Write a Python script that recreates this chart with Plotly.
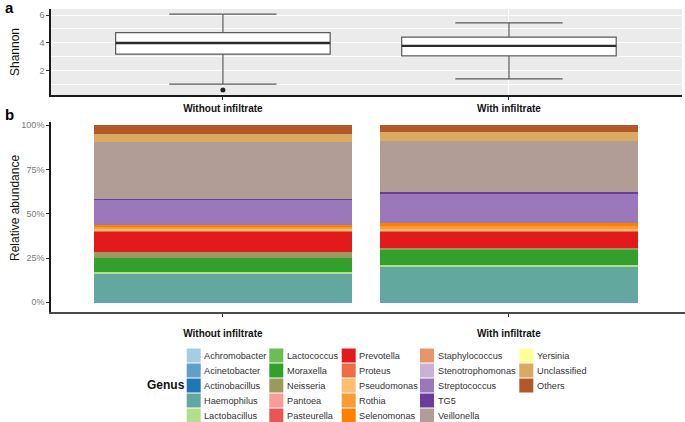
import plotly.graph_objects as go

W, H = 685, 422

# ---------------- data ----------------
groups = ["Without infiltrate", "With infiltrate"]

# Shannon box statistics (panel a)
shannon_upper = [6.07, 5.43]
shannon_q3 = [4.74, 4.42]
shannon_median = [4.00, 3.79]
shannon_q1 = [3.20, 3.07]
shannon_lower = [1.05, 1.43]
shannon_outlier_group = [0]
shannon_outlier_value = [0.62]

# Relative abundance (%) by genus (panel b)
genera = ["Achromobacter", "Acinetobacter", "Actinobacillus", "Haemophilus", "Lactobacillus",
          "Lactococcus", "Moraxella", "Neisseria", "Pantoea", "Pasteurella",
          "Prevotella", "Proteus", "Pseudomonas", "Rothia", "Selenomonas",
          "Staphylococcus", "Stenotrophomonas", "Streptococcus", "TG5", "Veillonella",
          "Yersinia", "Unclassified", "Others"]
abund_without = [0.0, 0.5, 0.0, 16.0, 0.8,
                 0.0, 7.9, 3.4, 0.0, 0.0,
                 11.3, 0.5, 1.1, 1.3, 1.1,
                 0.0, 0.0, 14.2, 0.4, 31.7,
                 0.0, 4.7, 5.1]
abund_with = [0.0, 0.7, 0.0, 19.6, 0.7,
              0.0, 8.5, 1.3, 0.0, 0.0,
              9.4, 0.3, 0.9, 2.2, 0.9,
              0.0, 0.0, 17.3, 0.5, 28.5,
              0.0, 5.1, 4.1]
genus_colors = ["#A6CEE3", "#5FA0CA", "#1F78B4", "#63A89F", "#B2DF8A",
                "#6DBD57", "#33A02C", "#999A5D", "#FB9A99", "#E95455",
                "#E31A1C", "#F06C45", "#FDBF6F", "#FD9A35", "#FF7F00",
                "#E8956B", "#CAB2D6", "#9B78B9", "#6A3D9A", "#B19C96",
                "#FFFF99", "#DAAA61", "#B15928"]

y_ticks_a = [2, 4, 6]
y_ticks_b = [0, 25, 50, 75, 100]
y_ticklabels_b = [f"{v}%" for v in y_ticks_b]

# ---------------- layout helpers ----------------
def px_x(x):
    return x / W

def px_y(y):
    return 1 - y / H

FONT = "Liberation Sans, Arial, sans-serif"
xpos = list(range(len(groups)))

fig = go.Figure()

# ---------- panel a: boxplots ----------
fig.add_trace(go.Box(
    x=xpos, q1=shannon_q1, median=shannon_median, q3=shannon_q3,
    lowerfence=shannon_lower, upperfence=shannon_upper,
    width=0.75, whiskerwidth=0.5, fillcolor="white",
    line=dict(color="#5a5a5a", width=1.2), boxpoints=False,
    xaxis="x", yaxis="y", showlegend=False, hoverinfo="skip"))
# thicker median lines
for i, m in enumerate(shannon_median):
    fig.add_trace(go.Scatter(x=[i - 0.375, i + 0.375], y=[m, m], mode="lines",
                             line=dict(color="#2b2b2b", width=2.4),
                             xaxis="x", yaxis="y", showlegend=False, hoverinfo="skip"))
fig.add_trace(go.Scatter(x=shannon_outlier_group, y=shannon_outlier_value, mode="markers",
                         marker=dict(color="#222", size=5),
                         xaxis="x", yaxis="y", showlegend=False, hoverinfo="skip"))

# ---------- panel b: stacked bars ----------
for g, vw, vi, c in zip(genera, abund_without, abund_with, genus_colors):
    fig.add_trace(go.Bar(x=xpos, y=[vw, vi], name=g, marker=dict(color=c, line=dict(width=0)),
                         width=0.9, xaxis="x2", yaxis="y2", showlegend=False))

xr = [-0.601, 1.605]
fig.update_layout(
    width=W, height=H, margin=dict(l=0, r=0, t=0, b=0),
    paper_bgcolor="white", plot_bgcolor="white", barmode="stack",
    font=dict(family=FONT),
    xaxis=dict(domain=[px_x(51), px_x(682)], range=xr, tickvals=xpos, ticktext=groups,
               showgrid=True, gridcolor="white", gridwidth=1.1, zeroline=False,
               showline=True, linecolor="#1a1a1a", linewidth=1.6,
               ticks="outside", ticklen=3, tickcolor="#333",
               tickfont=dict(size=10, color="#111", weight="bold"), anchor="y"),
    yaxis=dict(domain=[px_y(95), px_y(9)], range=[0.27, 6.43], tickvals=y_ticks_a,
               showgrid=True, gridcolor="white", gridwidth=1.1, zeroline=False,
               minor=dict(dtick=1, tick0=1, showgrid=True, gridcolor="white", gridwidth=0.5),
               showline=True, linecolor="#1a1a1a", linewidth=1.6,
               ticks="outside", ticklen=3, tickcolor="#333",
               tickfont=dict(size=9, color="#7a7a7a"), anchor="x"),
    xaxis2=dict(domain=[px_x(51), px_x(685)], range=[-0.601, 1.616], tickvals=xpos, ticktext=groups,
                showgrid=False, zeroline=False,
                showline=True, linecolor="#4a4a4a", linewidth=2,
                ticks="outside", ticklen=3, tickcolor="#333", ticklabelstandoff=8,
                tickfont=dict(size=10, color="#111", weight="bold"), anchor="y2"),
    yaxis2=dict(domain=[px_y(311.7), px_y(121.7)], range=[-5.3, 101.9], tickvals=y_ticks_b,
                ticktext=y_ticklabels_b, showgrid=False, zeroline=False,
                showline=True, linecolor="#1a1a1a", linewidth=1.6,
                ticks="outside", ticklen=3, tickcolor="#333",
                tickfont=dict(size=9, color="#7a7a7a"), anchor="x2"),
)
# grey panel background for panel a
fig.add_shape(type="rect", xref="x domain", yref="y domain", x0=0, x1=1, y0=0, y1=1,
              fillcolor="#EBEBEB", line=dict(width=0), layer="below")

annotations = [
    dict(text="<b>a</b>", x=px_x(3), y=px_y(7), xanchor="left", yanchor="middle",
         font=dict(size=15, color="black")),
    dict(text="<b>b</b>", x=px_x(3), y=px_y(115), xanchor="left", yanchor="middle",
         font=dict(size=15, color="black")),
    dict(text="Shannon", x=px_x(15), y=px_y(52), textangle=-90, xanchor="center", yanchor="middle",
         font=dict(size=12, color="#111")),
    dict(text="Relative abundance", x=px_x(15), y=px_y(208), textangle=-90, xanchor="center",
         yanchor="middle", font=dict(size=12, color="#111")),
    dict(text="<b>Genus</b>", x=px_x(166), y=px_y(385), xanchor="center", yanchor="middle",
         font=dict(size=12, color="#111")),
]

# ---------- manual legend (5 rows, column-major) ----------
col_key_x = [186.7, 269.3, 341.7, 420.0, 519.3]
row_y0 = 355.5
row_step = 15
key = 14
for i, (g, c) in enumerate(zip(genera, genus_colors)):
    col, row = divmod(i, 5)
    cx = col_key_x[col]
    cy = row_y0 + row * row_step
    fig.add_shape(type="rect", xref="paper", yref="paper",
                  x0=px_x(cx), x1=px_x(cx + key), y0=px_y(cy + key / 2), y1=px_y(cy - key / 2),
                  fillcolor=c, line=dict(width=0))
    annotations.append(dict(text=g, x=px_x(cx + key + 1.5), y=px_y(cy), xanchor="left",
                            yanchor="middle", font=dict(size=9.2, color="#333")))

for a in annotations:
    a.update(xref="paper", yref="paper", showarrow=False)
fig.update_layout(annotations=annotations)

fig.write_html("out.html", config={"displayModeBar": False},
               post_script="document.body.style.margin='0';document.body.style.overflow='hidden';")
